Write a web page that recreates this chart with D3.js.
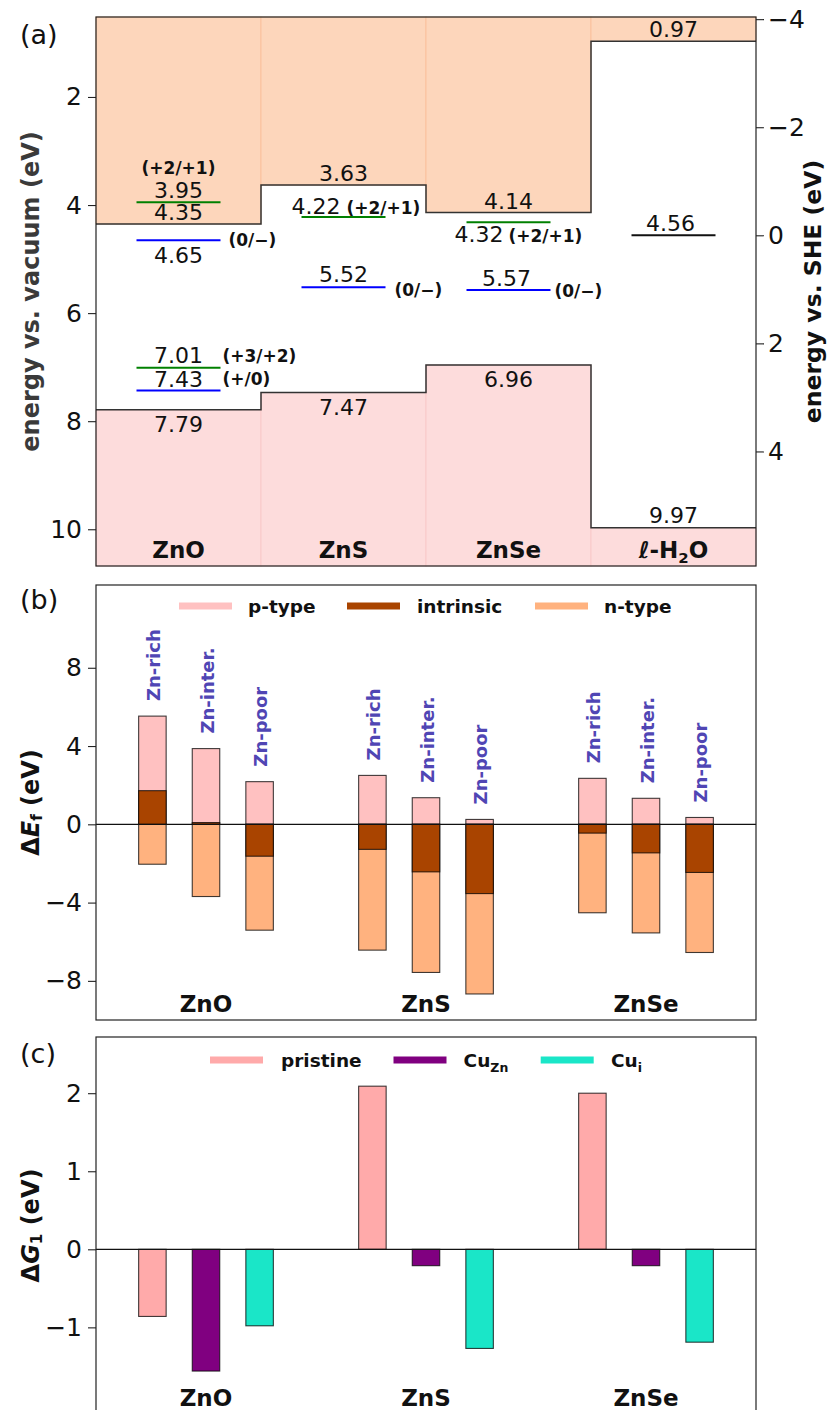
<!DOCTYPE html>
<html><head><meta charset="utf-8">
<script src="https://cdn.jsdelivr.net/npm/d3@7"></script>
<style>body{margin:0;background:#fff} svg text{font-family:"DejaVu Sans",sans-serif;fill:#111}</style>
</head><body><svg id="fig" width="839" height="1410"></svg>
<script>
// ---------------- DATA ----------------
// Panel (a): band edges (energy vs. vacuum, eV)
const materials = ["ZnO", "ZnS", "ZnSe", "ℓ-H₂O"];
const cbm = [4.35, 3.63, 4.14, 0.97];
const vbm = [7.79, 7.47, 6.96, 9.97];
const sheOffset = 4.56;
// defect / redox levels
const levelMaterial = ["ZnO", "ZnO", "ZnO", "ZnO", "ZnS", "ZnS", "ZnSe", "ZnSe", "ℓ-H₂O"];
const levelEnergy = [3.95, 4.65, 7.01, 7.43, 4.22, 5.52, 4.32, 5.57, 4.56];
const levelCharge = ["(+2/+1)", "(0/−)", "(+3/+2)", "(+/0)", "(+2/+1)", "(0/−)", "(+2/+1)", "(0/−)", ""];
const levelType = ["donor", "acceptor", "donor", "acceptor", "donor", "acceptor", "donor", "acceptor", "redox"];
const vacTicks = [2, 4, 6, 8, 10];
const sheTicks = [-4, -2, 0, 2, 4];

// Panel (b): formation energies
const compounds = ["ZnO", "ZnS", "ZnSe"];
const conditions = ["Zn-rich", "Zn-inter.", "Zn-poor"];
const pType = [[5.53, 3.87, 2.18], [2.50, 1.36, 0.25], [2.35, 1.33, 0.35]];
const intrinsic = [[1.72, 0.09, -1.63], [-1.28, -2.43, -3.54], [-0.45, -1.46, -2.46]];
const nType = [[-2.04, -3.69, -5.41], [-6.43, -7.57, -8.67], [-4.52, -5.55, -6.55]];
const efTicks = [-8, -4, 0, 4, 8];

// Panel (c): ΔG1
const dopings = ["pristine", "Cu_Zn", "Cu_i"];
const pristine = [-0.86, 2.09, 2.00];
const cuZn = [-1.56, -0.21, -0.21];
const cuI = [-0.98, -1.27, -1.19];
const gTicks = [-1, 0, 1, 2];

// ---------------- LAYOUT / STYLE ----------------
const svg = d3.select("#fig");
const L = 96, R = 756;
const fmt = d3.format("d");

function styleAxis(g, size) {
  g.select(".domain").remove();
  g.selectAll(".tick line").attr("stroke", "#222").attr("stroke-width", 1.1);
  g.selectAll(".tick text").style("font-size", size + "px").attr("fill", "#111");
}
// render text with unicode subscript digits
const subMap = {"₀":"0","₁":"1","₂":"2","₃":"3"};
function richText(sel, str, size) {
  let shift = 0;
  for (const ch of str) {
    if (subMap[ch]) {
      sel.append("tspan").text(subMap[ch]).style("font-size", (size * 0.65) + "px").attr("dy", size * 0.25 - shift);
      shift = size * 0.25;
    } else {
      sel.append("tspan").text(ch).attr("dy", -shift);
      shift = 0;
    }
  }
}

// ================= PANEL (a) =================
const aTop = 17, aBot = 566;
const yA = d3.scaleLinear().domain([0.52, 10.68]).range([aTop, aBot]);
const ySHE = d3.scaleLinear().domain([0.52 - sheOffset, 10.68 - sheOffset]).range([aTop, aBot]);
const xA = d3.scaleBand().domain(materials).range([L, R]);
const gA = svg.append("g");
const bw = xA.bandwidth();

gA.selectAll("rect.cb").data(materials).join("rect").attr("class", "cb")
  .attr("x", d => xA(d)).attr("width", bw)
  .attr("y", aTop).attr("height", (d, i) => yA(cbm[i]) - aTop)
  .attr("fill", "#fdd6bb").attr("stroke", "#f9bf98").attr("stroke-width", 0.8);
gA.selectAll("rect.vb").data(materials).join("rect").attr("class", "vb")
  .attr("x", d => xA(d)).attr("width", bw)
  .attr("y", (d, i) => yA(vbm[i])).attr("height", (d, i) => aBot - yA(vbm[i]))
  .attr("fill", "#fddcdc").attr("stroke", "#f8c6c6").attr("stroke-width", 0.8);

const stepLine = d3.line().x(d => d[0]).y(d => yA(d[1])).curve(d3.curveStepAfter);
[cbm, vbm].forEach(arr => {
  const pts = materials.map((m, i) => [xA(m), arr[i]]);
  pts.push([R, arr[arr.length - 1]]);
  gA.append("path").attr("d", stepLine(pts)).attr("fill", "none").attr("stroke", "#333").attr("stroke-width", 1.5);
});

// band edge labels
const cx = m => xA(m) + bw / 2;
materials.forEach((m, i) => {
  gA.append("text").attr("x", cx(m)).attr("y", yA(cbm[i]) - 4).attr("text-anchor", "middle")
    .style("font-size", "22px").text(cbm[i].toFixed(2));
  const below = i < 3;
  gA.append("text").attr("x", cx(m)).attr("y", below ? yA(vbm[i]) + 22 : yA(vbm[i]) - 5).attr("text-anchor", "middle")
    .style("font-size", "22px").text(vbm[i].toFixed(2));
});

// defect levels
const levelColor = {donor: "#008000", acceptor: "#0000ff", redox: "#111"};
// label placement per level: number position and charge placement
const placement = [
  {num: [0, -4, "middle"], chg: [0, -28, "middle"]},
  {num: [0, 23, "middle"], chg: [50, 6, "start"]},
  {num: [0, -5, "middle"], chg: [44, -6, "start"]},
  {num: [0, -3, "middle"], chg: [44, -5, "start"]},
  {num: [-3, -3, "end"], chg: [3, -3, "start"]},
  {num: [0, -5, "middle"], chg: [51, 9, "start"]},
  {num: [-5, 20, "end"], chg: [0, 20, "start"]},
  {num: [-2, -4, "middle"], chg: [46, 7, "start"]},
  {num: [-3, -4, "middle"], chg: null}
];
levelEnergy.forEach((v, i) => {
  const m = levelMaterial[i], c = cx(m), y = yA(v);
  gA.append("line").attr("x1", c - 42).attr("x2", c + 42).attr("y1", y).attr("y2", y)
    .attr("stroke", levelColor[levelType[i]]).attr("stroke-width", 2);
  const p = placement[i];
  gA.append("text").attr("x", c + p.num[0]).attr("y", y + p.num[1]).attr("text-anchor", p.num[2])
    .style("font-size", "22px").text(v.toFixed(2));
  if (p.chg && levelCharge[i]) {
    gA.append("text").attr("x", c + p.chg[0]).attr("y", y + p.chg[1]).attr("text-anchor", p.chg[2])
      .style("font-size", "17px").style("font-weight", "bold").text(levelCharge[i]);
  }
});

// material labels
materials.forEach(m => {
  const t = gA.append("text").attr("x", cx(m)).attr("y", 557.5).attr("text-anchor", "middle")
    .style("font-size", "23px").style("font-weight", "bold");
  richText(t, m, 23);
});

gA.append("rect").attr("x", L).attr("y", aTop).attr("width", R - L).attr("height", aBot - aTop)
  .attr("fill", "none").attr("stroke", "#222").attr("stroke-width", 1.2);
const axAL = gA.append("g").attr("transform", `translate(${L},0)`)
  .call(d3.axisLeft(yA).tickValues(vacTicks).tickSize(8).tickPadding(6).tickFormat(fmt));
styleAxis(axAL, 25);
const axAR = gA.append("g").attr("transform", `translate(${R},0)`)
  .call(d3.axisRight(ySHE).tickValues(sheTicks).tickSize(8).tickPadding(4).tickFormat(fmt));
styleAxis(axAR, 25);
gA.append("text").attr("transform", `translate(31,${(aTop + aBot) / 2}) rotate(-90)`).attr("text-anchor", "middle")
  .attr("dominant-baseline", "central").style("font-size", "24px").style("font-weight", "bold").attr("fill", "#333")
  .style("fill", "#3a3a3a").text("energy vs. vacuum (eV)");
gA.append("text").attr("transform", `translate(813,${(aTop + aBot) / 2}) rotate(-90)`).attr("text-anchor", "middle")
  .attr("dominant-baseline", "central").style("font-size", "23.5px").style("font-weight", "bold")
  .text("energy vs. SHE (eV)");
gA.append("text").attr("x", 20).attr("y", 44).style("font-size", "27px").text("(a)");

// ================= PANEL (b) =================
const bTop = 585, bBot = 1020;
const yB = d3.scaleLinear().domain([-10, 12.23]).range([bBot, bTop]);
const xG = d3.scaleBand().domain(compounds).range([L, R]);
const xIn = d3.scalePoint().domain(conditions).range([-53.6, 53.6]);
const barW = 27.5;
const gB = svg.append("g");
const bColors = {p: "#ffc1c1", i: "#a94400", n: "#ffb27f"};
const barRect = (g, x, v0, v1, y, fill) => g.append("rect")
  .attr("x", x - barW / 2).attr("width", barW)
  .attr("y", y(Math.max(v0, v1))).attr("height", Math.abs(y(v0) - y(v1)))
  .attr("fill", fill).attr("stroke", "#000").attr("stroke-opacity", 0.75).attr("stroke-width", 1.1);

compounds.forEach((cmp, ci) => {
  conditions.forEach((cond, k) => {
    const x = xG(cmp) + xG.bandwidth() / 2 + xIn(cond);
    barRect(gB, x, 0, pType[ci][k], yB, bColors.p);
    barRect(gB, x, nType[ci][k], 0, yB, bColors.n);
    barRect(gB, x, 0, intrinsic[ci][k], yB, bColors.i);
    const top = Math.max(pType[ci][k], intrinsic[ci][k]);
    gB.append("text").attr("transform", `translate(${x + 1},${yB(top) - 15}) rotate(-90)`)
      .attr("dominant-baseline", "central").style("font-size", "18px").style("font-weight", "bold")
      .style("fill", "#5046b4").text(cond);
  });
  gB.append("text").attr("x", xG(cmp) + xG.bandwidth() / 2).attr("y", 1011.5).attr("text-anchor", "middle")
    .style("font-size", "23px").style("font-weight", "bold").text(cmp);
});
gB.append("line").attr("x1", L).attr("x2", R).attr("y1", yB(0)).attr("y2", yB(0)).attr("stroke", "#111").attr("stroke-width", 1.2);
gB.append("rect").attr("x", L).attr("y", bTop).attr("width", R - L).attr("height", bBot - bTop)
  .attr("fill", "none").attr("stroke", "#222").attr("stroke-width", 1.2);
const axB = gB.append("g").attr("transform", `translate(${L},0)`)
  .call(d3.axisLeft(yB).tickValues(efTicks).tickSize(8).tickPadding(6).tickFormat(fmt));
styleAxis(axB, 25);
// legend (b)
const legB = [["p-type", bColors.p, 179, 248], ["intrinsic", bColors.i, 347, 417], ["n-type", bColors.n, 535, 604]];
legB.forEach(([lab, col, x0, tx]) => {
  gB.append("line").attr("x1", x0).attr("x2", x0 + 53).attr("y1", 606).attr("y2", 606).attr("stroke", col).attr("stroke-width", 7);
  gB.append("text").attr("x", tx).attr("y", 612.5).style("font-size", "18.5px").style("font-weight", "bold").text(lab);
});
const tB = gB.append("text").attr("transform", `translate(31,${(bTop + bBot) / 2}) rotate(-90)`).attr("text-anchor", "middle")
  .attr("dominant-baseline", "central").style("font-size", "24px").style("font-weight", "bold");
tB.append("tspan").text("Δ");
tB.append("tspan").text("E").style("font-style", "italic");
tB.append("tspan").text("f").style("font-size", "15px").attr("dy", 6);
tB.append("tspan").text(" (eV)").attr("dy", -6);
gB.append("text").attr("x", 20).attr("y", 609).style("font-size", "27px").text("(b)");

// ================= PANEL (c) =================
const cTop = 1037, cBot = 1414;
const yC = d3.scaleLinear().domain([-2.11, 2.72]).range([cBot, cTop]);
const xD = d3.scalePoint().domain(dopings).range([-53.6, 53.6]);
const gC = svg.append("g");
const cColors = {pristine: "#ffaaaa", Cu_Zn: "#800080", Cu_i: "#1ae6c8"};
const cVals = {pristine: pristine, Cu_Zn: cuZn, Cu_i: cuI};
compounds.forEach((cmp, ci) => {
  dopings.forEach(dp => {
    const x = xG(cmp) + xG.bandwidth() / 2 + xD(dp);
    barRect(gC, x, 0, cVals[dp][ci], yC, cColors[dp]);
  });
  gC.append("text").attr("x", xG(cmp) + xG.bandwidth() / 2).attr("y", 1406).attr("text-anchor", "middle")
    .style("font-size", "23px").style("font-weight", "bold").text(cmp);
});
gC.append("line").attr("x1", L).attr("x2", R).attr("y1", yC(0)).attr("y2", yC(0)).attr("stroke", "#111").attr("stroke-width", 1.2);
gC.append("rect").attr("x", L).attr("y", cTop).attr("width", R - L).attr("height", cBot - cTop)
  .attr("fill", "none").attr("stroke", "#222").attr("stroke-width", 1.2);
const axC = gC.append("g").attr("transform", `translate(${L},0)`)
  .call(d3.axisLeft(yC).tickValues(gTicks).tickSize(8).tickPadding(6).tickFormat(fmt));
styleAxis(axC, 25);
// legend (c)
const legC = [["pristine", null, 210, 281], ["Cu_Zn", "Zn", 393.5, 463.6], ["Cu_i", "i", 540.7, 611]];
legC.forEach(([key, sub, x0, tx]) => {
  gC.append("line").attr("x1", x0).attr("x2", x0 + 53).attr("y1", 1060).attr("y2", 1060).attr("stroke", cColors[key]).attr("stroke-width", 7);
  const t = gC.append("text").attr("x", tx).attr("y", 1066.5).style("font-size", "18.5px").style("font-weight", "bold");
  if (sub) {
    t.append("tspan").text("Cu");
    t.append("tspan").text(sub).style("font-size", "12.5px").attr("dy", 5);
  } else t.text(key);
});
const tC = gC.append("text").attr("transform", `translate(31,${(cTop + cBot) / 2}) rotate(-90)`).attr("text-anchor", "middle")
  .attr("dominant-baseline", "central").style("font-size", "24px").style("font-weight", "bold");
tC.append("tspan").text("Δ");
tC.append("tspan").text("G").style("font-style", "italic");
tC.append("tspan").text("1").style("font-size", "15px").attr("dy", 6);
tC.append("tspan").text(" (eV)").attr("dy", -6);
gC.append("text").attr("x", 20).attr("y", 1063).style("font-size", "27px").text("(c)");
</script></body></html>
